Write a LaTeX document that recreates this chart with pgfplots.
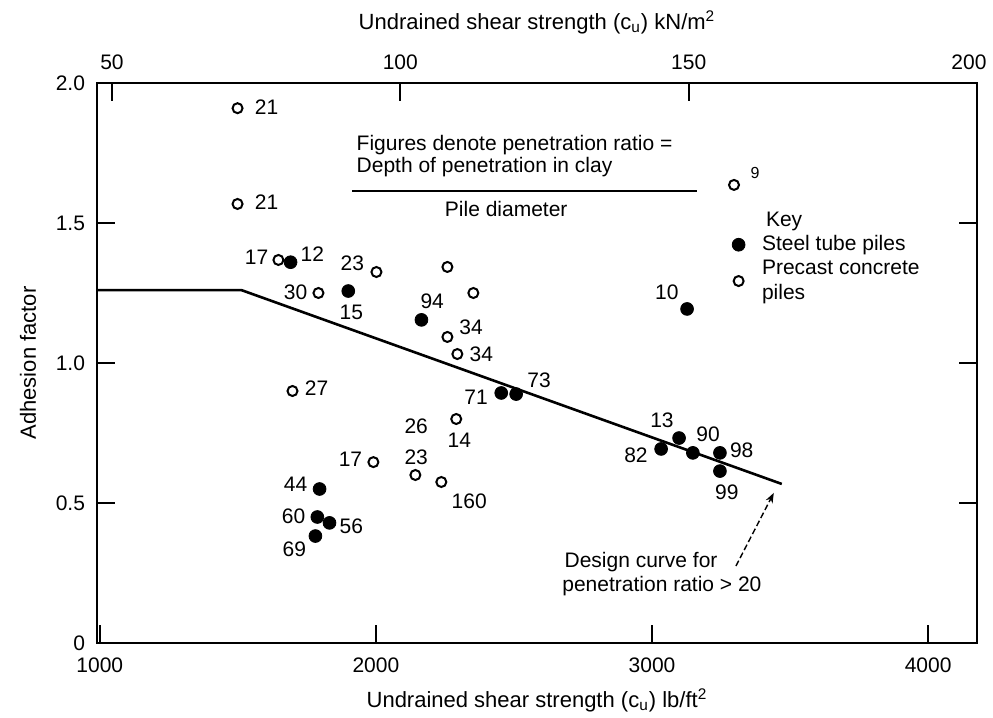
\documentclass[border=0pt]{standalone}
\usepackage{fontspec}
\setmainfont{Liberation Sans}
\usepackage{pgfplots}
\pgfplotsset{compat=1.18}
\usetikzlibrary{arrows.meta}

\pgfplotsset{
  openpt/.style={only marks, mark=*, mark size=2.5bp,
    mark options={fill=white, draw=black, line width=1bp}},
  fullpt/.style={only marks, mark=*, mark size=3.2bp,
    mark options={fill=black, draw=black}},
}
\tikzset{lab/.style={inner sep=0pt, font=\fontsize{10.5bp}{12bp}\selectfont}}

\begin{document}
\begin{tikzpicture}[font=\fontsize{10.5bp}{12.5bp}\selectfont]
% bottom axis: lb/ft^2
\begin{axis}[
  at={(0,0)}, anchor=south west,
  width=440bp, height=280bp, scale only axis,
  xmin=990, xmax=4177, ymin=0, ymax=2,
  xtick={1000,2000,3000,4000}, xtick pos=lower,
  ytick={0,0.5,1,1.5,2}, yticklabels={0,0.5,1.0,1.5,2.0},
  ytick pos=both,
  tick align=inside, major tick length=9bp,
  axis line style={line width=1.1bp},
  every tick/.style={black, line width=0.9bp},
  scaled x ticks=false,
  /pgf/number format/set thousands separator={},
  /pgf/number format/assume math mode=true,
  x tick label style={yshift=-4bp},
  y tick label style={xshift=-2.5bp},
  xlabel={Undrained shear strength (c\textsubscript{u}) lb/ft\textsuperscript{2}},
  xlabel style={at={(rel axis cs:0.5,-0.102)}, anchor=center,
    font=\fontsize{11bp}{13bp}\selectfont},
  ylabel={Adhesion factor},
  ylabel style={at={(rel axis cs:-0.0784,0.5)}, anchor=center,
    font=\fontsize{11bp}{13bp}\selectfont},
  legend style={draw=none, fill=none, at={(axis cs:3229,1.565)},
    anchor=north west, cells={anchor=west, align=left},
    font=\fontsize{10.5bp}{12.5bp}\selectfont, row sep=0pt,
    nodes={inner sep=1.5bp},
    /tikz/every odd column/.append style={column sep=7bp}},
  clip=false,
]
\addlegendimage{empty legend}
\addlegendentry{\hspace*{2bp}Key}

% precast concrete piles (open)
\addplot[openpt, forget plot] coordinates {
  (1499,1.910) (1499,1.568) (1647,1.368) (1792,1.250) (2002,1.325)
  (2259,1.343) (2353,1.250) (2259,1.093) (2295,1.032) (1698,0.900)
  (2291,0.800) (1991,0.646) (2143,0.600) (2237,0.575) (3297,1.636)
};
% steel tube piles (filled)
\addplot[fullpt] coordinates {
  (1691,1.360) (1900,1.257) (2165,1.154) (2454,0.893) (2508,0.889)
  (3127,1.193) (3033,0.693) (3098,0.732) (3148,0.679) (3246,0.679)
  (3246,0.614) (1796,0.550) (1788,0.450) (1832,0.429) (1781,0.382)
};
\addlegendentry{Steel tube piles}
\addlegendimage{openpt}
\addlegendentry{Precast concrete\\piles}

% design curve
\addplot[line width=1.3bp, no marks, forget plot] coordinates {
  (990,1.26) (1514,1.26) (3470,0.568)
};

% penetration ratios
\node[lab] at (axis cs:1604,1.914) {21};
\node[lab] at (axis cs:1604,1.575) {21};
\node[lab] at (axis cs:1568,1.379) {17};
\node[lab] at (axis cs:1770,1.389) {12};
\node[lab] at (axis cs:1915,1.357) {23};
\node[lab] at (axis cs:1709,1.254) {30};
\node[lab] at (axis cs:1911,1.179) {15};
\node[lab] at (axis cs:2204,1.221) {94};
\node[lab] at (axis cs:2345,1.129) {34};
\node[lab] at (axis cs:2382,1.032) {34};
\node[lab] at (axis cs:1785,0.911) {27};
\node[lab] at (axis cs:2363,0.879) {71};
\node[lab] at (axis cs:2591,0.939) {73};
\node[lab] at (axis cs:2146,0.775) {26};
\node[lab] at (axis cs:2302,0.725) {14};
\node[lab] at (axis cs:1908,0.657) {17};
\node[lab] at (axis cs:2146,0.664) {23};
\node[lab] at (axis cs:2338,0.507) {160};
\node[lab] at (axis cs:1709,0.568) {44};
\node[lab] at (axis cs:1702,0.454) {60};
\node[lab] at (axis cs:1911,0.418) {56};
\node[lab] at (axis cs:1705,0.336) {69};
\node[lab, font=\fontsize{8bp}{9bp}\selectfont] at (axis cs:3373,1.679) {9};
\node[lab] at (axis cs:3054,1.254) {10};
\node[lab] at (axis cs:3036,0.796) {13};
\node[lab] at (axis cs:2942,0.671) {82};
\node[lab] at (axis cs:3203,0.746) {90};
\node[lab] at (axis cs:3325,0.689) {98};
\node[lab] at (axis cs:3271,0.539) {99};

% explanatory note
\node[lab, anchor=west] at (axis cs:1929,1.779) {Figures denote penetration ratio =};
\node[lab, anchor=west] at (axis cs:1929,1.700) {Depth of penetration in clay};
\draw[line width=1bp] (axis cs:1915,1.614) -- (axis cs:3163,1.614);
\node[lab] at (axis cs:2472,1.550) {Pile diameter};

% design curve note
\node[lab, anchor=west] at (axis cs:2682,0.289) {Design curve for};
\node[lab, anchor=west] at (axis cs:2674,0.204) {penetration ratio > 20};
\draw[line width=0.7bp, dash pattern=on 3bp off 1.5bp, -{Stealth[length=5bp]}]
  (axis cs:3304,0.275) -- (axis cs:3441,0.536);
\end{axis}

% top axis: kN/m^2
\begin{axis}[
  at={(0,0)}, anchor=south west,
  width=440bp, height=280bp, scale only axis,
  xmin=47.40, xmax=200, ymin=0, ymax=2,
  axis x line*=top, hide y axis,
  xtick={50,100,150,200},
  xticklabels={50,100,150,{\hspace*{-8bp}200}},
  xtick align=inside, major tick length=9bp,
  axis line style={line width=1.1bp},
  every tick/.style={black, line width=0.9bp},
  x tick label style={yshift=3bp},
  xlabel={Undrained shear strength (c\textsubscript{u}) kN/m\textsuperscript{2}},
  xlabel style={at={(rel axis cs:0.5,1.109)}, anchor=center,
    font=\fontsize{11bp}{13bp}\selectfont},
]
\end{axis}

\pgfresetboundingbox
\path[use as bounding box] (-48.5bp,-37.5bp) rectangle (448bp,321.5bp);
\end{tikzpicture}
\end{document}
